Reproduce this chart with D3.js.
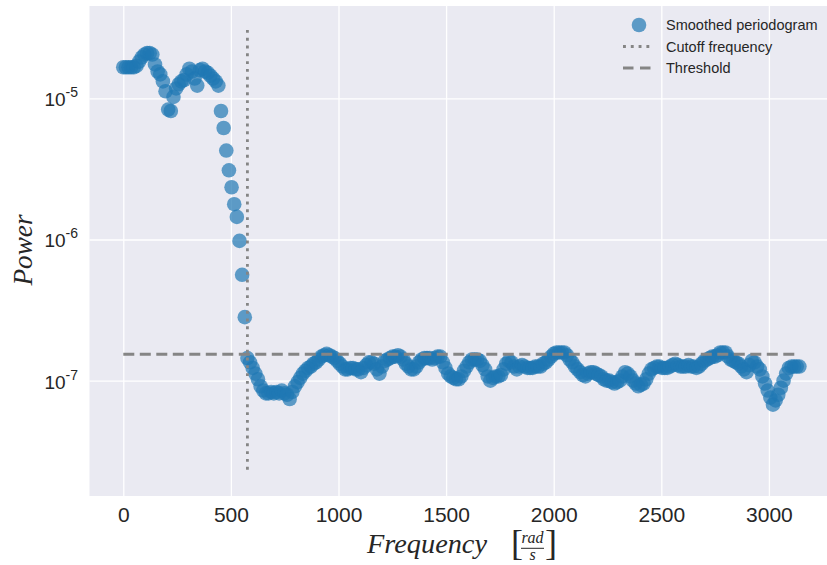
<!DOCTYPE html>
<html>
<head>
<meta charset="utf-8">
<script src="https://cdn.jsdelivr.net/npm/d3@7"></script>
<style>
  body { margin: 0; background: #fff; }
  svg { display: block; }
</style>
</head>
<body>
<script>
// smoothed periodogram: log10 of the power, one value per frequency bin from 0 to pi*1000 rad/s
var log10Power = [
  -4.78, -4.78, -4.78, -4.78, -4.78, -4.77, -4.74, -4.71, -4.69, -4.68,
  -4.68, -4.69, -4.76, -4.81, -4.83, -4.88, -4.95, -5.08, -5.09, -4.99,
  -4.93, -4.90, -4.88, -4.87, -4.83, -4.79, -4.81, -4.86, -4.91, -4.80,
  -4.79, -4.81, -4.82, -4.84, -4.86, -4.88, -4.91, -5.09, -5.21, -5.37,
  -5.51, -5.63, -5.75, -5.84, -6.01, -6.25, -6.55, -6.84, -6.87, -6.91,
  -6.95, -6.99, -7.04, -7.07, -7.09, -7.09, -7.08, -7.09, -7.08, -7.09,
  -7.07, -7.09, -7.10, -7.13, -7.08, -7.04, -7.01, -6.98, -6.95, -6.93,
  -6.91, -6.90, -6.88, -6.87, -6.85, -6.83, -6.82, -6.81, -6.82, -6.83,
  -6.84, -6.86, -6.88, -6.90, -6.92, -6.92, -6.91, -6.91, -6.92, -6.92,
  -6.94, -6.91, -6.89, -6.87, -6.87, -6.88, -6.92, -6.95, -6.90, -6.86,
  -6.85, -6.84, -6.83, -6.83, -6.82, -6.83, -6.85, -6.88, -6.90, -6.92,
  -6.92, -6.90, -6.87, -6.85, -6.84, -6.84, -6.84, -6.85, -6.84, -6.83,
  -6.83, -6.87, -6.91, -6.95, -6.97, -6.98, -6.99, -6.99, -6.97, -6.93,
  -6.90, -6.87, -6.85, -6.85, -6.85, -6.86, -6.89, -6.92, -6.97, -7.00,
  -6.98, -6.97, -6.97, -6.96, -6.92, -6.88, -6.86, -6.87, -6.90, -6.92,
  -6.90, -6.89, -6.90, -6.91, -6.91, -6.91, -6.90, -6.90, -6.90, -6.88,
  -6.87, -6.85, -6.83, -6.81, -6.80, -6.80, -6.80, -6.80, -6.82, -6.85,
  -6.87, -6.90, -6.92, -6.94, -6.96, -6.97, -6.95, -6.94, -6.94, -6.95,
  -6.96, -6.97, -6.99, -7.00, -7.00, -7.01, -7.02, -7.01, -7.00, -6.97,
  -6.94, -6.95, -6.97, -7.00, -7.02, -7.04, -7.03, -7.02, -6.99, -6.95,
  -6.92, -6.91, -6.90, -6.90, -6.91, -6.91, -6.91, -6.90, -6.89, -6.88,
  -6.89, -6.90, -6.90, -6.90, -6.89, -6.90, -6.90, -6.91, -6.90, -6.88,
  -6.86, -6.85, -6.84, -6.83, -6.83, -6.82, -6.80, -6.80, -6.80, -6.83,
  -6.85, -6.86, -6.87, -6.88, -6.90, -6.92, -6.94, -6.89, -6.86, -6.87,
  -6.90, -6.92, -6.97, -7.02, -7.07, -7.12, -7.17, -7.14, -7.10, -7.05,
  -7.00, -6.95, -6.91, -6.90, -6.90, -6.90, -6.90
];
var maxFreq = 3141.59;            // last bin (rad/s)
var cutoffFreq = 576.8;
var cutoffRange = [2.25e-8, 3.05e-5];
var threshold = 1.54e-7;
var xTicks = [0, 500, 1000, 1500, 2000, 2500, 3000];
var yTickExponents = [-5, -6, -7];
var legendLabels = ["Smoothed periodogram", "Cutoff frequency", "Threshold"];

var width = 827, height = 565;
var plotLeft = 89.5, plotRight = 833.2, plotTop = 6, plotBottom = 496;
var pointColor = "#1f77b4";
var lineColor = "#858585";

var svg = d3.select("body").append("svg").attr("width", width).attr("height", height);

var xScale = d3.scaleLinear().domain([-157, 3298.7]).range([plotLeft, plotRight]);
var yScale = d3.scaleLog().domain([Math.pow(10, -7.817), Math.pow(10, -4.346)]).range([plotBottom, plotTop]);

svg.append("rect")
  .attr("x", plotLeft).attr("y", plotTop)
  .attr("width", plotRight - plotLeft).attr("height", plotBottom - plotTop)
  .attr("fill", "#eaeaf2");

// grid via axes
var xAxis = d3.axisBottom(xScale).tickValues(xTicks).tickSize(-(plotBottom - plotTop)).tickPadding(11).tickFormat(d3.format("d"));
var xg = svg.append("g").attr("transform", "translate(0," + plotBottom + ")").call(xAxis);
xg.select(".domain").remove();
xg.selectAll("line").attr("stroke", "#fff").attr("stroke-width", 1.3);
xg.selectAll("text").attr("fill", "#262626").style("font-family", "'Liberation Sans', Arial, sans-serif").style("font-size", "21px");

var yAxis = d3.axisLeft(yScale).tickValues(yTickExponents.map(function(e){ return Math.pow(10, e); }))
  .tickSize(-(plotRight - plotLeft)).tickPadding(12).tickFormat("");
var yg = svg.append("g").attr("transform", "translate(" + plotLeft + ",0)").call(yAxis);
yg.select(".domain").remove();
yg.selectAll("line").attr("stroke", "#fff").attr("stroke-width", 1.3);
yg.selectAll(".tick").each(function(d, i){
  var t = d3.select(this).select("text")
    .attr("x", -11.5).attr("dy", null).attr("y", 7.5)
    .attr("fill", "#262626")
    .style("font-family", "'Liberation Sans', Arial, sans-serif")
    .style("text-anchor", "end");
  t.append("tspan").style("font-size", "19px").text("10");
  t.append("tspan").attr("dy", -9).style("font-size", "14px").text(String(yTickExponents[i]));
});

var clip = svg.append("clipPath").attr("id", "plotClip");
clip.append("rect").attr("x", plotLeft).attr("y", plotTop).attr("width", plotRight - plotLeft).attr("height", plotBottom - plotTop);
var plotG = svg.append("g").attr("clip-path", "url(#plotClip)");

var points = log10Power.map(function(v, i){
  return { freq: i * maxFreq / (log10Power.length - 1), power: Math.pow(10, v) };
});

plotG.selectAll(".pt")
  .data(points)
  .enter()
  .append("circle")
  .attr("class", "pt")
  .attr("cx", function(d){ return xScale(d.freq); })
  .attr("cy", function(d){ return yScale(d.power); })
  .attr("r", 7.3)
  .attr("fill", pointColor)
  .attr("fill-opacity", 0.7);

plotG.append("line")
  .attr("x1", xScale(cutoffFreq)).attr("x2", xScale(cutoffFreq))
  .attr("y1", yScale(cutoffRange[1])).attr("y2", yScale(cutoffRange[0]))
  .attr("stroke", lineColor).attr("stroke-width", 2.8)
  .attr("stroke-dasharray", "2.9,4.9");

plotG.append("line")
  .attr("x1", xScale(0)).attr("x2", xScale(maxFreq))
  .attr("y1", yScale(threshold)).attr("y2", yScale(threshold))
  .attr("stroke", lineColor).attr("stroke-width", 3)
  .attr("stroke-dasharray", "11,5.5");

// legend
var legend = svg.append("g").attr("transform", "translate(623,0)");
var rowY = [25, 46.5, 68];
legend.append("circle").attr("cx", 16).attr("cy", rowY[0]).attr("r", 7.3)
  .attr("fill", pointColor).attr("fill-opacity", 0.7);
legend.append("line").attr("x1", 0).attr("x2", 28).attr("y1", rowY[1]).attr("y2", rowY[1])
  .attr("stroke", lineColor).attr("stroke-width", 2.8).attr("stroke-dasharray", "2.9,4.9");
legend.append("line").attr("x1", 0).attr("x2", 28).attr("y1", rowY[2]).attr("y2", rowY[2])
  .attr("stroke", lineColor).attr("stroke-width", 3).attr("stroke-dasharray", "10.5,6.5");
legend.selectAll(".lbl")
  .data(legendLabels)
  .enter()
  .append("text")
  .attr("class", "lbl")
  .attr("x", 43)
  .attr("y", function(d, i){ return rowY[i] + 5.2; })
  .attr("fill", "#262626")
  .style("font-family", "'Liberation Sans', Arial, sans-serif")
  .style("font-size", "14.5px")
  .text(function(d){ return d; });

// axis labels
var serif = "'Liberation Serif', 'DejaVu Serif', serif";
svg.append("text")
  .attr("transform", "translate(32,250) rotate(-90)")
  .attr("text-anchor", "middle")
  .attr("fill", "#262626")
  .style("font-family", serif).style("font-style", "italic").style("font-size", "27px")
  .attr("textLength", 71).attr("lengthAdjust", "spacingAndGlyphs")
  .text("Power");

var xl = svg.append("g").attr("fill", "#262626").style("font-family", serif);
xl.append("text").attr("x", 367).attr("y", 553)
  .style("font-style", "italic").style("font-size", "27px")
  .attr("textLength", 120).attr("lengthAdjust", "spacingAndGlyphs")
  .text("Frequency");
xl.append("text").attr("x", 511).attr("y", 555).style("font-size", "36px").style("font-weight", "300").text("[");
xl.append("text").attr("x", 532.5).attr("y", 543).attr("text-anchor", "middle")
  .style("font-style", "italic").style("font-size", "16px").text("rad");
xl.append("line").attr("x1", 521).attr("x2", 544).attr("y1", 548.3).attr("y2", 548.3)
  .attr("stroke", "#262626").attr("stroke-width", 1);
xl.append("text").attr("x", 532.5).attr("y", 560).attr("text-anchor", "middle")
  .style("font-style", "italic").style("font-size", "16px").text("s");
xl.append("text").attr("x", 545).attr("y", 555).style("font-size", "36px").style("font-weight", "300").text("]");
</script>
</body>
</html>
